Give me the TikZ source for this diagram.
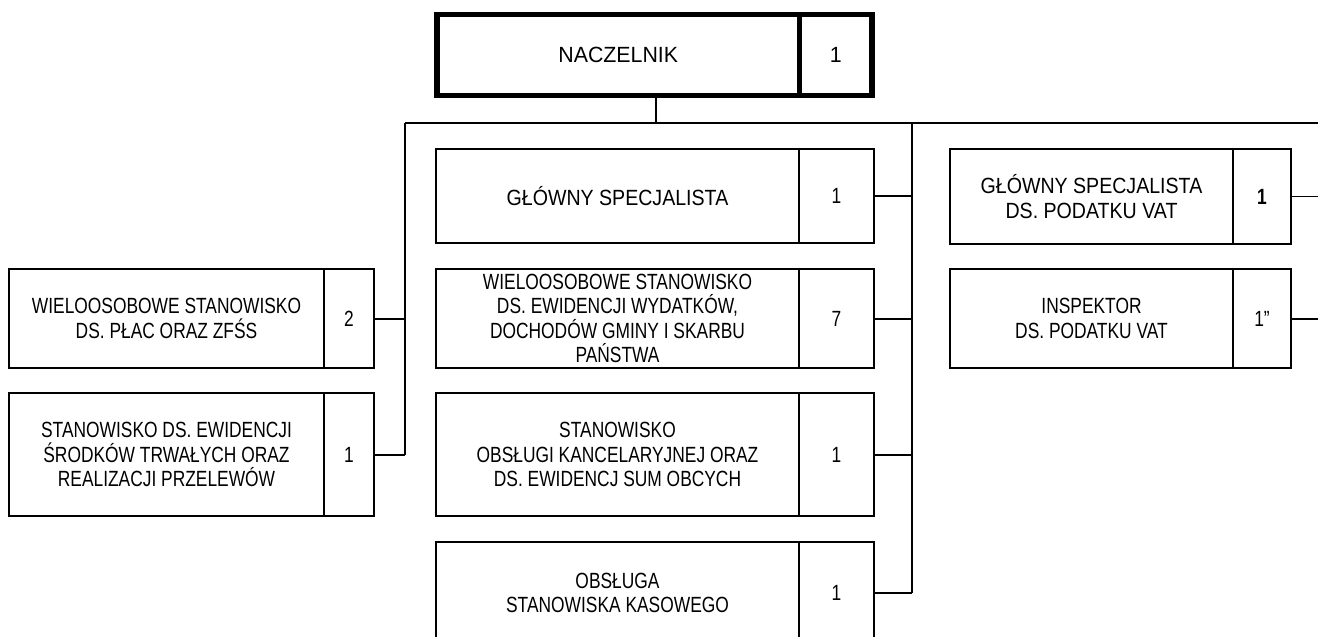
\documentclass[tikz,border=0pt]{standalone}
\usepackage{fontspec}
\setmainfont{Liberation Sans}
\newfontfamily\narrowfont[FakeStretch=0.79]{Liberation Sans}
\newfontfamily\midfont[FakeStretch=0.89]{Liberation Sans}
\newfontfamily\chieffont[FakeStretch=0.97]{Liberation Sans}
\tikzset{
  cell/.style={draw, line width=1.5pt, inner sep=0pt, outer sep=0pt, anchor=north west,
    align=center, font=\narrowfont\fontsize{22}{24.5}\selectfont},
  chief/.style={cell, line width=5.5pt, font=\chieffont\fontsize{22}{24.5}\selectfont},
  midcell/.style={cell, font=\midfont\fontsize{22}{24.5}\selectfont},
  wire/.style={line width=2pt},
  bus/.style={line width=1.3pt},
}
\begin{document}
\begin{tikzpicture}[x=1pt,y=-1pt]
        \useasboundingbox (0,0) rectangle (1318,637);
        \clip (0,0) rectangle (1318,637);
        % 顶部方框
        \node[chief, minimum width=362.5, minimum height=81] (nacz) at (437,14.5) {NACZELNIK};
        \node[chief, minimum width=72.5, minimum height=81] (nacz-n) at (nacz.north east) {1};
        % 左列
        \node[cell, minimum width=315, minimum height=99] (place) at (9,269) {WIELOOSOBOWE STANOWISKO\\DS. PŁAC ORAZ ZFŚS};
        \node[cell, minimum width=50, minimum height=99] (place-n) at (place.north east) {2};
        \node[cell, minimum width=315, minimum height=123] (srodki) at (9,393) {STANOWISKO DS. EWIDENCJI\\ŚRODKÓW TRWAŁYCH ORAZ\\REALIZACJI PRZELEWÓW};
        \node[cell, minimum width=50, minimum height=123] (srodki-n) at (srodki.north east) {1};
        % 中列
        \node[midcell, line width=2.2pt, minimum width=363, minimum height=94] (gs) at (436,149) {GŁÓWNY SPECJALISTA};
        \node[cell, line width=2.2pt, minimum width=75, minimum height=94] (gs-n) at (gs.north east) {1};
        \node[cell, minimum width=363, minimum height=99] (wyd) at (436,269) {WIELOOSOBOWE STANOWISKO\\DS. EWIDENCJI WYDATKÓW,\\DOCHODÓW GMINY I SKARBU\\PAŃSTWA};
        \node[cell, minimum width=75, minimum height=99] (wyd-n) at (wyd.north east) {7};
        \node[cell, minimum width=363, minimum height=123] (kanc) at (436,393) {STANOWISKO\\OBSŁUGI KANCELARYJNEJ ORAZ\\DS. EWIDENCJ SUM OBCYCH};
        \node[cell, minimum width=75, minimum height=123] (kanc-n) at (kanc.north east) {1};
        \node[cell, minimum width=363, minimum height=102] (kasa) at (436,542) {OBSŁUGA\\STANOWISKA KASOWEGO};
        \node[cell, minimum width=75, minimum height=102] (kasa-n) at (kasa.north east) {1};
        % 右列
        \node[midcell, line width=2pt, minimum width=283, minimum height=95] (vat1) at (950,149) {GŁÓWNY SPECJALISTA\\DS. PODATKU VAT};
        \node[cell, minimum width=58, minimum height=95] (vat1-n) at (vat1.north east) {\bfseries 1};
        \node[cell, minimum width=283, minimum height=99] (vat2) at (950,269) {INSPEKTOR\\DS. PODATKU VAT};
        \node[cell, minimum width=58, minimum height=99] (vat2-n) at (vat2.north east) {1”};
        % 连接线
        \coordinate (hub) at (656,123);
        \coordinate (bl) at (405,123);
        \coordinate (bm) at (912,123);
        \coordinate (br) at (1318,123);
        \draw[bus] (hub |- nacz.south) -- (hub);
        \draw[bus] (bl) -- (br);
        \draw[bus] (bl) -- (bl |- srodki-n.east);
        \draw[bus] (bm) -- (bm |- kasa-n.east);
        \draw[wire] (place-n.east) -- (place-n.east -| bl);
        \draw[wire] (srodki-n.east) -- (srodki-n.east -| bl);
        \draw[wire] (gs-n.east) -- (gs-n.east -| bm);
        \draw[wire] (wyd-n.east) -- (wyd-n.east -| bm);
        \draw[wire] (kanc-n.east) -- (kanc-n.east -| bm);
        \draw[wire] (kasa-n.east) -- (kasa-n.east -| bm);
        \draw[bus] (vat1-n.east) -- (vat1-n.east -| br);
        \draw[wire] (vat2-n.east) -- (vat2-n.east -| br);
\end{tikzpicture}
\end{document}
